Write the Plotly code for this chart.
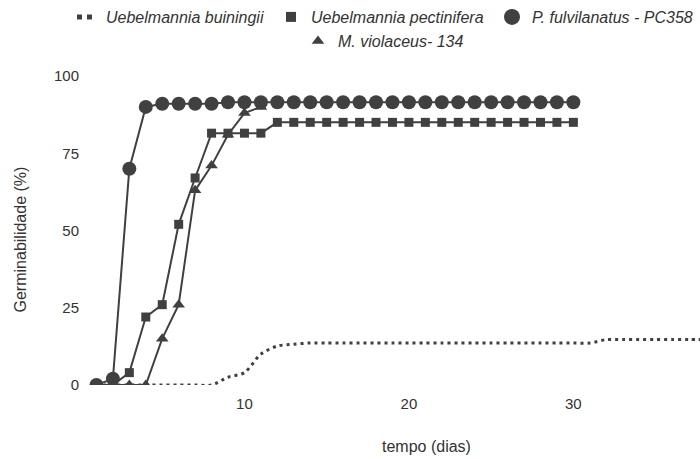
import plotly.graph_objects as go

# ---- data ----
days = [1, 2, 3, 4, 5, 6, 7, 8, 9, 10, 11, 12, 13, 14, 15, 16, 17, 18, 19, 20,
        21, 22, 23, 24, 25, 26, 27, 28, 29, 30]
fulvilanatus = [0, 2, 70, 90, 91, 91, 91, 91, 91.5, 91.5, 91.5, 91.5, 91.5, 91.5, 91.5,
                91.5, 91.5, 91.5, 91.5, 91.5, 91.5, 91.5, 91.5, 91.5, 91.5, 91.5, 91.5,
                91.5, 91.5, 91.5]
pectinifera = [0, 0, 4, 22, 26, 52, 67, 81.5, 81.5, 81.5, 81.5, 85, 85, 85, 85, 85, 85,
               85, 85, 85, 85, 85, 85, 85, 85, 85, 85, 85, 85, 85]
violaceus_days = [1, 2, 3, 4, 5, 6, 7, 8, 9, 10, 11]
violaceus = [0, 0, 0, 0, 15, 26, 63, 71, 81, 88, 90]
buiningii_days = [1, 2, 3, 4, 5, 6, 7, 8, 9, 10, 11, 12, 13, 14, 15, 16, 17, 18, 19, 20,
                  21, 22, 23, 24, 25, 26, 27, 28, 29, 30, 31, 32, 33, 34, 35, 36, 37, 38]
buiningii = [0, 0, 0, 0, 0, 0, 0, 0, 2.5, 4, 10, 12.6, 13.2, 13.6, 13.6, 13.6, 13.6,
             13.6, 13.6, 13.6, 13.6, 13.6, 13.6, 13.6, 13.6, 13.6, 13.6, 13.6, 13.6,
             13.6, 13.6, 14.7, 14.7, 14.7, 14.7, 14.7, 14.7, 14.7]

names = ["Uebelmannia buiningii", "Uebelmannia pectinifera",
         "P. fulvilanatus - PC358", "M. violaceus- 134"]
y_ticks = [0, 25, 50, 75, 100]
x_ticks = [10, 20, 30]

INK = "#404040"
TXT = "#333333"
FONT = "Liberation Sans, Arial, sans-serif"

W, H = 700, 459
ML, MR, MT, MB = 80, 0, 75, 74
PW, PH = W - ML - MR, H - MT - MB


def px_x(p):
    return (p - ML) / PW


def px_y(p):
    return (H - MB - p) / PH


fig = go.Figure()

# data traces (drawn bottom to top)
fig.add_trace(go.Scatter(x=buiningii_days, y=buiningii, mode="lines",
                         line=dict(color=INK, width=3, dash="3px,4px", shape="spline", smoothing=0.8),
                         showlegend=False, hoverinfo="skip"))
fig.add_trace(go.Scatter(x=violaceus_days, y=violaceus, mode="lines+markers",
                         line=dict(color=INK, width=2),
                         marker=dict(symbol="triangle-up", size=11, color=INK),
                         showlegend=False))
fig.add_trace(go.Scatter(x=days, y=pectinifera, mode="lines+markers",
                         line=dict(color=INK, width=2),
                         marker=dict(symbol="square", size=9, color=INK),
                         showlegend=False))
fig.add_trace(go.Scatter(x=days, y=fulvilanatus, mode="lines+markers",
                         line=dict(color=INK, width=2),
                         marker=dict(symbol="circle", size=14, color=INK),
                         showlegend=False))

# legend entries, each in its own legend box so it can be placed exactly
fig.add_trace(go.Scatter(x=[None], y=[None], mode="lines", name=names[0],
                         line=dict(color=INK, width=5, dash="0px,6px,5px,5px,5px,40px"),
                         legend="legend"))
fig.add_trace(go.Scatter(x=[None], y=[None], mode="markers", name=names[1],
                         marker=dict(symbol="square", size=10, color=INK), legend="legend2"))
fig.add_trace(go.Scatter(x=[None], y=[None], mode="markers", name=names[2],
                         marker=dict(symbol="circle", size=16, color=INK), legend="legend3"))
fig.add_trace(go.Scatter(x=[None], y=[None], mode="markers", name=names[3],
                         marker=dict(symbol="triangle-up", size=11, color=INK), legend="legend4"))

legend_font = dict(family=FONT, size=16, color=TXT, style="italic")


def leg(px, py):
    return dict(orientation="h", x=px_x(px), xanchor="left", y=px_y(py), yanchor="top",
                font=legend_font, bgcolor="rgba(0,0,0,0)")


fig.update_layout(
    width=W, height=H,
    margin=dict(l=ML, r=MR, t=MT, b=MB),
    paper_bgcolor="white", plot_bgcolor="white",
    font=dict(family=FONT, color=TXT, size=15),
    legend=leg(66, -1),
    legend2=leg(271, -1),
    legend3=leg(492, -1),
    legend4=leg(298, 24),
    xaxis=dict(range=[0, 37.7], tickvals=x_ticks, showgrid=False, zeroline=False,
               showline=False, ticks="", tickfont=dict(size=15, color=TXT),
               ticklabelstandoff=8),
    yaxis=dict(range=[0, 100], tickvals=y_ticks, showgrid=False, zeroline=False,
               showline=False, ticks="", tickfont=dict(size=15, color=TXT)),
    annotations=[
        dict(text="tempo (dias)", xref="paper", yref="paper", x=px_x(426), y=px_y(447),
             xanchor="center", yanchor="middle", showarrow=False,
             font=dict(size=16, color=TXT, family=FONT)),
        dict(text="Germinabilidade (%)", xref="paper", yref="paper", x=px_x(20), y=px_y(239),
             xanchor="center", yanchor="middle", showarrow=False, textangle=-90,
             font=dict(size=16, color=TXT, family=FONT)),
    ],
)

fig.write_html("out.html")
